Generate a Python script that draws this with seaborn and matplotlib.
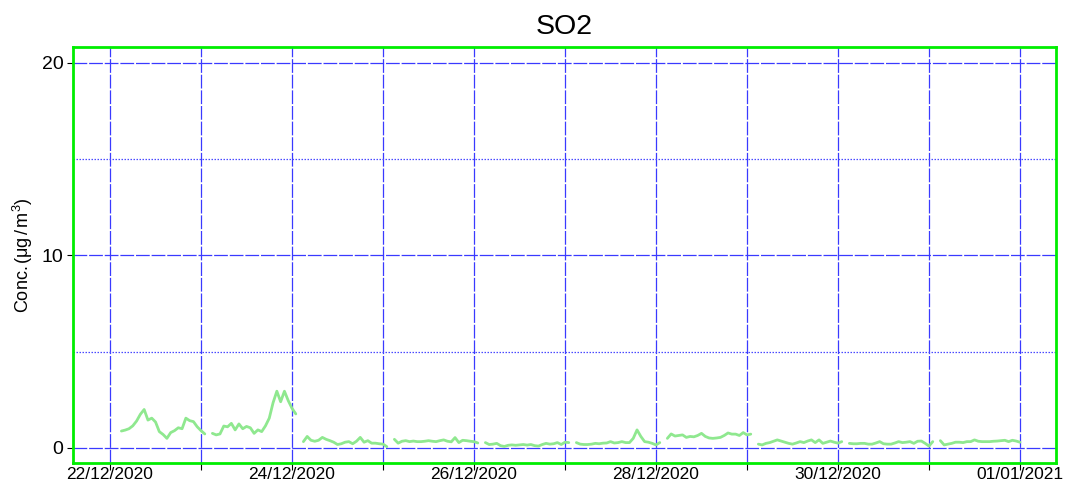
import numpy as np
import pandas as pd
import matplotlib
matplotlib.use("Agg")
import matplotlib.pyplot as plt
import seaborn as sns

# 每天的小时数据（从 03:00 开始，到次日 01:00，02:00 缺测）
days = pd.date_range("2020-12-22", "2020-12-31", freq="D")
so2_by_day = [
    [0.88, 0.93, 1.0, 1.15, 1.4, 1.75, 2.0, 1.45, 1.55, 1.35, 0.85, 0.7, 0.5, 0.8, 0.9, 1.05, 1.0, 1.55, 1.42, 1.37, 1.1, 0.9, 0.73],
    [0.76, 0.68, 0.73, 1.14, 1.1, 1.28, 0.94, 1.25, 1.0, 1.12, 1.05, 0.76, 0.94, 0.85, 1.15, 1.55, 2.35, 2.95, 2.4, 2.95, 2.46, 2.06, 1.77],
    [0.33, 0.6, 0.4, 0.35, 0.4, 0.55, 0.45, 0.38, 0.3, 0.18, 0.22, 0.3, 0.33, 0.22, 0.35, 0.55, 0.3, 0.38, 0.25, 0.25, 0.22, 0.2, 0.07],
    [0.45, 0.25, 0.35, 0.38, 0.33, 0.36, 0.33, 0.33, 0.35, 0.38, 0.35, 0.33, 0.38, 0.42, 0.35, 0.32, 0.54, 0.28, 0.4, 0.38, 0.35, 0.33, 0.26],
    [0.28, 0.18, 0.2, 0.24, 0.12, 0.08, 0.14, 0.16, 0.14, 0.16, 0.18, 0.15, 0.18, 0.12, 0.1, 0.18, 0.24, 0.2, 0.22, 0.28, 0.18, 0.3, 0.28],
    [0.28, 0.2, 0.18, 0.18, 0.2, 0.24, 0.22, 0.25, 0.26, 0.33, 0.26, 0.28, 0.33, 0.28, 0.28, 0.5, 0.94, 0.6, 0.33, 0.3, 0.24, 0.16, 0.28],
    [0.5, 0.73, 0.62, 0.65, 0.68, 0.55, 0.6, 0.58, 0.65, 0.76, 0.6, 0.52, 0.5, 0.52, 0.55, 0.65, 0.78, 0.72, 0.72, 0.65, 0.8, 0.68, 0.72],
    [0.2, 0.16, 0.24, 0.28, 0.35, 0.42, 0.36, 0.3, 0.24, 0.2, 0.26, 0.33, 0.28, 0.36, 0.42, 0.28, 0.42, 0.24, 0.3, 0.36, 0.3, 0.25, 0.33],
    [0.24, 0.22, 0.22, 0.24, 0.24, 0.2, 0.2, 0.26, 0.33, 0.22, 0.2, 0.2, 0.26, 0.33, 0.28, 0.3, 0.33, 0.24, 0.35, 0.36, 0.24, 0.1, 0.33],
    [0.38, 0.16, 0.2, 0.24, 0.3, 0.3, 0.28, 0.33, 0.33, 0.42, 0.35, 0.33, 0.33, 0.33, 0.35, 0.36, 0.38, 0.4, 0.33, 0.4, 0.36, 0.3],
]
tick_dates = pd.date_range("2020-12-22", "2021-01-01", freq="D")
tick_labels = ["22/12/2020", "", "24/12/2020", "", "26/12/2020", "",
               "28/12/2020", "", "30/12/2020", "", "01/01/2021"]

# 组装成长表，每天一段
rows = []
for i, (d, vals) in enumerate(zip(days, so2_by_day)):
    for h, v in enumerate(vals):
        rows.append({"time": d + pd.Timedelta(hours=3 + h), "SO2": v, "seg": i})
df = pd.DataFrame(rows)

sns.set_style("white")
plt.rcParams["font.family"] = ["Liberation Sans", "DejaVu Sans"]
plt.rcParams["mathtext.fontset"] = "custom"
plt.rcParams["mathtext.rm"] = "Liberation Sans"
plt.rcParams["mathtext.it"] = "Liberation Sans"
plt.rcParams["text.color"] = "black"

fig = plt.figure(figsize=(10.69, 4.87), dpi=100)
ax = fig.add_axes([73 / 1069, 1 - 463 / 487, (1056 - 73) / 1069, (463 - 47) / 487])

sns.lineplot(data=df, x="time", y="SO2", units="seg", estimator=None,
             color="#8fe88f", linewidth=2.0, ax=ax, zorder=3)

# 坐标范围
ax.set_xlim(pd.Timestamp("2020-12-22") - pd.Timedelta(days=0.407),
            pd.Timestamp("2021-01-01") + pd.Timedelta(days=0.396))
ax.set_ylim(-0.78, 20.83)

ax.set_xticks(tick_dates)
ax.set_xticklabels(tick_labels, fontsize=12.5, color="black")
ax.set_yticks([0, 10, 20])
ax.set_yticks([5, 15], minor=True)
ax.set_yticklabels(["0", "10", "20"], fontsize=14, color="black")
ax.tick_params(axis="x", which="major", length=5, width=0.8, color="black", bottom=True, pad=-1.9)
ax.tick_params(axis="y", which="major", length=4.3, width=0.8, color="black", left=True, pad=2.5)
ax.tick_params(axis="y", which="minor", length=0)

# 网格
ax.grid(True, which="major", axis="both", color="#3a3aff", linestyle=(0, (11, 1.5)), linewidth=0.9, zorder=1)
ax.grid(True, which="minor", axis="y", color="#4a4aff", linestyle=(0, (1.2, 1.2)), linewidth=0.9, zorder=1)
ax.set_axisbelow(True)

for s in ax.spines.values():
    s.set_color("#00ee00")
    s.set_linewidth(2)

ax.set_xlabel("")
ax.set_ylabel(r"Conc.$\,(\mathrm{\mu g\,/\,m^{3}})$", fontsize=13, labelpad=5, color="black")
ax.set_title("SO2", fontsize=20.5, pad=9, color="black")

fig.savefig("out.png", dpi=100)
